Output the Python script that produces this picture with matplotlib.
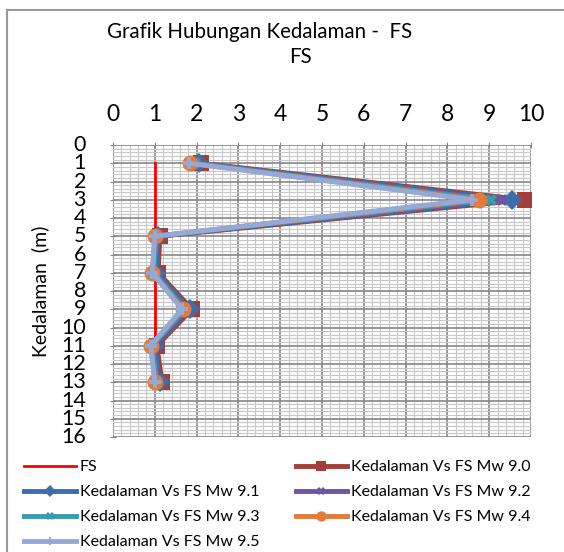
import matplotlib
matplotlib.use("Agg")
import matplotlib.pyplot as plt
from matplotlib.ticker import MultipleLocator
from matplotlib.lines import Line2D

plt.rcParams['font.family'] = ['Lato', 'DejaVu Sans']

# Data
kedalaman = [1, 3, 5, 7, 9, 11, 13]
fs_batas_x = [1, 1]
fs_batas_y = [1, 13]
fs_mw90 = [2.1, 9.85, 1.12, 1.08, 1.89, 1.05, 1.17]
fs_mw91 = [2.05, 9.55, 1.08, 1.04, 1.83, 1.0, 1.12]
fs_mw92 = [2.0, 9.3, 1.05, 1.0, 1.78, 0.97, 1.08]
fs_mw93 = [1.95, 9.05, 1.03, 0.98, 1.73, 0.94, 1.05]
fs_mw94 = [1.85, 8.76, 1.0, 0.94, 1.67, 0.9, 1.01]
fs_mw95 = [1.82, 8.6, 1.0, 0.94, 1.65, 0.9, 1.0]

labels = ['Kedalaman Vs FS Mw 9.0', 'Kedalaman Vs FS Mw 9.1',
          'Kedalaman Vs FS Mw 9.2', 'Kedalaman Vs FS Mw 9.3',
          'Kedalaman Vs FS Mw 9.4', 'Kedalaman Vs FS Mw 9.5']
warna = ['#A33E3A', '#3D6DAA', '#7153A0', '#3A9AB0', '#E07B39', '#93A9D8']
marker = ['s', 'D', 'X', 'X', 'o', 'P']
ukuran = [12, 10, 9, 9, 11.5, 9]
seri = [fs_mw90, fs_mw91, fs_mw92, fs_mw93, fs_mw94, fs_mw95]

fig = plt.figure(figsize=(5.64, 5.52), dpi=100)
ax = fig.add_axes([0.2004, 0.2083, 0.741, 0.529])

# garis batas FS
h_fs, = ax.plot(fs_batas_x, fs_batas_y, color='#FF0000', lw=2, label='FS', zorder=3)

handles = []
for y, c, m, s, lab in zip(seri, warna, marker, ukuran, labels):
    h, = ax.plot(y, kedalaman, color=c, lw=3.5, marker=m, markersize=s,
                 markeredgewidth=0, label=lab, zorder=4)
    handles.append(h)

ax.set_xlim(0, 10)
ax.set_ylim(16, 0)
ax.xaxis.set_major_locator(MultipleLocator(1))
ax.yaxis.set_major_locator(MultipleLocator(1))
ax.xaxis.set_minor_locator(MultipleLocator(0.2))
ax.yaxis.set_minor_locator(MultipleLocator(0.2))
ax.grid(which='major', color='#868686', lw=1.2, zorder=0)
ax.grid(which='minor', color='#C8C8C8', lw=0.8, zorder=0)
ax.set_axisbelow(True)
ax.xaxis.tick_top()
ax.tick_params(axis='x', which='major', labelsize=16.5, pad=12, length=5,
               color='#868686', direction='inout')
ax.tick_params(axis='y', which='major', labelsize=15.5, pad=17, length=5,
               color='#868686', direction='inout')
ax.tick_params(which='minor', length=0)
for sp in ax.spines.values():
    sp.set_visible(False)
for lbl in ax.get_yticklabels():
    lbl.set_verticalalignment('center')

fig.text(0.461, 0.942, 'Grafik Hubungan Kedalaman -  FS', ha='center', va='center', fontsize=14.8)
fig.text(0.532, 0.897, 'FS', ha='center', va='center', fontsize=14.8)
fig.text(0.071, 0.472, 'Kedalaman  (m)', rotation=90, ha='center', va='center', fontsize=14)

# bingkai luar
fig.add_artist(Line2D([0.0125, 0.0125], [0.0, 0.982], color='#9A9A9A', lw=1.5))
fig.add_artist(Line2D([0.0125, 1.0], [0.982, 0.982], color='#9A9A9A', lw=1.5))

urutan = [h_fs, handles[1], handles[3], handles[5], handles[0], handles[2], handles[4]]
fig.legend(urutan, [h.get_label() for h in urutan], ncol=2, loc='upper left',
           bbox_to_anchor=(0.032, 0.178), frameon=False, fontsize=11.5,
           handlelength=3.2, handletextpad=0.25, columnspacing=2.3,
           labelspacing=0.68, borderaxespad=0, markerscale=0.65)

fig.savefig('out.png', dpi=100)
